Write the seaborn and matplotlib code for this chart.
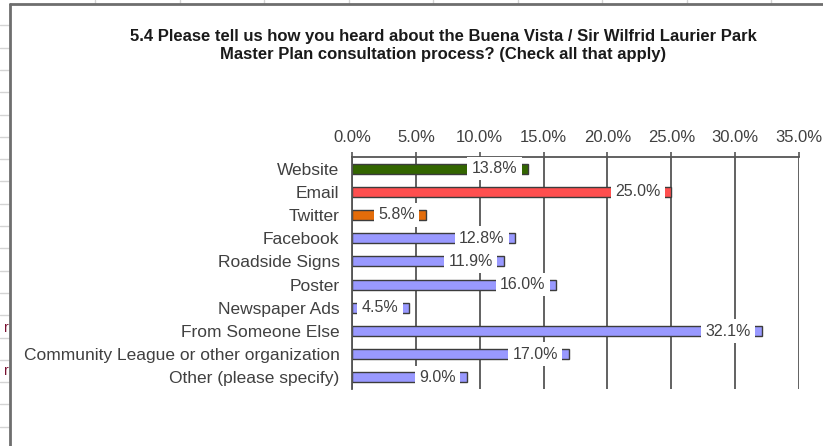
import numpy as np
import pandas as pd
import matplotlib
matplotlib.use("Agg")
import matplotlib.pyplot as plt
import seaborn as sns
from matplotlib.lines import Line2D

# Data
categories = ["Website", "Email", "Twitter", "Facebook", "Roadside Signs", "Poster",
              "Newspaper Ads", "From Someone Else",
              "Community League or other organization", "Other (please specify)"]
values = [13.8, 25.0, 5.8, 12.8, 11.9, 16.0, 4.5, 32.1, 17.0, 9.0]
bar_colors = ["#336600", "#FF4F4F", "#E36C0A", "#9999FF", "#9999FF", "#9999FF",
              "#9999FF", "#9999FF", "#9999FF", "#9999FF"]
tick_values = [0, 5, 10, 15, 20, 25, 30, 35]
tick_labels = ["0.0%", "5.0%", "10.0%", "15.0%", "20.0%", "25.0%", "30.0%", "35.0%"]
title = ("5.4 Please tell us how you heard about the Buena Vista / Sir Wilfrid Laurier Park\n"
         "Master Plan consultation process? (Check all that apply)")

df = pd.DataFrame({"source": categories, "pct": values})

sns.set_style("white")
plt.rcParams["font.family"] = ["Liberation Sans", "DejaVu Sans"]

W, H = 823, 446
fig = plt.figure(figsize=(W / 100, H / 100), dpi=100)
ax = fig.add_axes([352 / W, 1 - 389 / H, (799 - 352) / W, (389 - 157) / H])

sns.barplot(data=df, x="pct", y="source", hue="source",
            palette=dict(zip(categories, bar_colors)), orient="h",
            width=0.43, edgecolor="#3c3c3c", linewidth=1, legend=False,
            saturation=1, ax=ax)

ax.set_xlim(0, 35)
ax.set_ylim(len(categories) - 0.5, -0.5)
ax.set_axisbelow(True)
ax.grid(axis="x", color="#555555", lw=1.3)
ax.grid(axis="y", visible=False)

ax.xaxis.tick_top()
ax.set_xticks(tick_values)
ax.set_xticklabels(tick_labels)
ax.tick_params(axis="x", length=3.5, width=1.2, color="#555555", pad=5.5,
               labelsize=12, labelcolor="#404040")
ax.tick_params(axis="y", which="major", length=0, pad=9, labelsize=12.5,
               labelcolor="#404040")
ax.set_yticks(np.arange(-0.5, len(categories), 1), minor=True)
ax.tick_params(axis="y", which="minor", length=3.5, width=1.2, color="#555555")
ax.set_xlabel("")
ax.set_ylabel("")

for s in ["bottom", "right"]:
    ax.spines[s].set_visible(False)
for s in ["top", "left"]:
    ax.spines[s].set_color("#555555")
    ax.spines[s].set_linewidth(1.3)

# value labels with white boxes, right edge just inside the bar end
for i, v in enumerate(values):
    ax.annotate(f"{v:.1f}%", xy=(v, i), xytext=(-11, 0), textcoords="offset pixels",
                ha="right", va="center", fontsize=11.5, color="#404040",
                bbox=dict(boxstyle="square,pad=0.27", fc="white", ec="none"),
                zorder=5, annotation_clip=False)

fig.text(443 / W, 1 - 46 / H, title, ha="center", va="center", fontsize=12,
         fontweight="bold", color="#1a1a1a", linespacing=1.25,
         family=["Liberation Sans Narrow", "Liberation Sans", "DejaVu Sans"])

# spreadsheet surroundings
def px_line(x0, y0, x1, y1, **kw):
    fig.add_artist(Line2D([x0 / W, x1 / W], [1 - y0 / H, 1 - y1 / H],
                          transform=fig.transFigure, **kw))

for cx in [95, 180, 264, 349, 433, 518, 602, 687, 771]:
    px_line(cx, 0, cx, 4, color="#d4d4d4", lw=1)
for k in range(19):
    ry = 25.3 + 22.3 * k
    px_line(0, ry, 9, ry, color="#d4d4d4", lw=1)
px_line(10, 4, 823, 4, color="#6e6e6e", lw=2)
px_line(10, 4, 10, 446, color="#6e6e6e", lw=2)
for ry in [328, 371]:
    fig.text(9 / W, 1 - ry / H, "r", ha="right", va="center", fontsize=10,
             color="#7a1030")

plt.savefig("out.png", dpi=100)
